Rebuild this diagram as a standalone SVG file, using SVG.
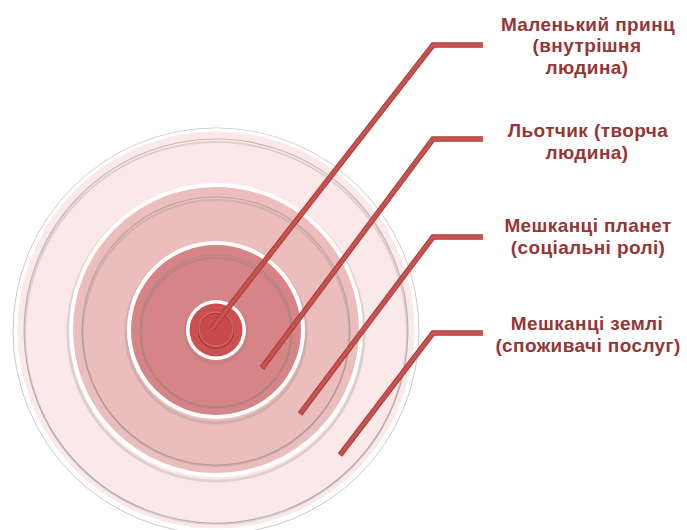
<svg xmlns="http://www.w3.org/2000/svg" width="687" height="530" viewBox="0 0 687 530">
<style>
.lbl{font-family:"Liberation Sans",Arial,sans-serif;font-weight:bold;font-size:19px;letter-spacing:0.4px;fill:#963634;text-anchor:middle}
.edge{fill:none;stroke:#a8403d;stroke-width:5.5;stroke-linejoin:miter}
.core{fill:none;stroke:#c9524e;stroke-width:3.4;stroke-linejoin:miter}
.rim{fill:none;stroke:#ffffff}
.groove{fill:none;stroke:#8c8c8c;stroke-opacity:0.5;stroke-width:1.2}
.shade{fill:none;stroke:#7a7a7a;stroke-opacity:0.22}
</style>
<rect width="687" height="530" fill="#ffffff"/>
<g id="ring-earth">
<circle cx="216" cy="331" r="203" fill="none" stroke="#cccccc" stroke-width="1"/>
<circle cx="216" cy="330" r="201" fill="#fbe8e8"/>
<circle cx="216" cy="330" r="200" class="rim" stroke-width="3"/>
<circle cx="216" cy="331" r="192" class="groove"/>
<circle cx="216" cy="333" r="191" class="shade" stroke-width="2"/>
</g>
<g id="ring-planets">
<circle cx="216" cy="333" r="148" class="shade" stroke-width="3"/>
<circle cx="216" cy="330" r="146" fill="#ecbdbd"/>
<circle cx="216" cy="330" r="145" class="rim" stroke-width="4"/>
<circle cx="216" cy="331" r="134" class="groove"/>
<circle cx="216" cy="333" r="133" class="shade" stroke-width="2"/>
</g>
<g id="ring-pilot">
<circle cx="216" cy="333" r="90" class="shade" stroke-width="3"/>
<circle cx="216" cy="330" r="88" fill="#d68485"/>
<circle cx="216" cy="330" r="87" class="rim" stroke-width="4"/>
<circle cx="216" cy="331" r="76" class="groove"/>
<circle cx="216" cy="333" r="75" class="shade" stroke-width="2"/>
</g>
<g id="ring-prince">
<circle cx="216" cy="332" r="31" class="shade" stroke-width="2"/>
<circle cx="216" cy="330" r="30" fill="#ffffff"/>
<circle cx="216" cy="330" r="26.5" fill="#cc5050"/>
<circle cx="216" cy="331" r="17.5" fill="#c84a4a" stroke="#a53c3c" stroke-width="1.2"/>
<circle cx="216" cy="329" r="17" fill="none" stroke="#e07a78" stroke-width="0.8"/>
</g>
<g id="connectors">
<polyline class="edge" points="211,330 433,45 483,45"/>
<polyline class="core" points="211,330 433,45 483,45"/>
<polyline class="edge" points="262,368 433,139 483,139"/>
<polyline class="core" points="262,368 433,139 483,139"/>
<polyline class="edge" points="300,414 433,237 483,237"/>
<polyline class="core" points="300,414 433,237 483,237"/>
<polyline class="edge" points="340,455 433,333 483,333"/>
<polyline class="core" points="340,455 433,333 483,333"/>
</g>
<g id="label-prince">
<text class="lbl" x="588" y="30.5">Маленький принц</text>
<text class="lbl" x="587" y="52">(внутрішня</text>
<text class="lbl" x="587" y="73.5">людина)</text>
</g>
<g id="label-pilot">
<text class="lbl" x="588" y="137">Льотчик (творча</text>
<text class="lbl" x="587" y="158.5">людина)</text>
</g>
<g id="label-planets">
<text class="lbl" x="588" y="232">Мешканці планет</text>
<text class="lbl" x="588" y="253.5">(соціальні ролі)</text>
</g>
<g id="label-earth">
<text class="lbl" x="587" y="330">Мешканці землі</text>
<text class="lbl" x="588" y="351.5">(споживачі послуг)</text>
</g>
</svg>
